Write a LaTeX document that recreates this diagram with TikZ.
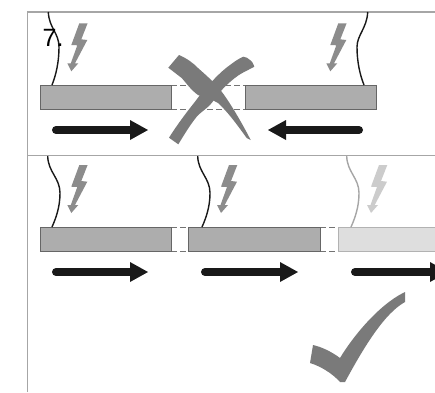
\documentclass[tikz,border=0pt]{standalone}
\usepackage{fontspec}
\setmainfont{Liberation Sans}
\tikzset{
  x=1pt,y=-1pt,
  framerule/.style={draw=black!35,line width=1.1pt},
  barbox/.style={draw=black!60,fill=black!32,line width=.9pt},
  barlight/.style={fill=black!13},
  gapdash/.style={draw=black!55,line width=.7pt,dash pattern=on 6pt off 3pt},
  wire/.style={draw=black!90,line width=1.4pt},
  wirelight/.style={draw=black!35,line width=1.4pt},
  bigarrow/.style={draw=black!90,line width=8pt,line cap=round},
  arrowfill/.style={fill=black!90},
  boltshape/.style={fill=black!45},
  boltlight/.style={fill=black!20},
  markshape/.style={fill=black!52},
}
\newcommand{\bolt}[3]{\fill[#1,shift={(#2,#3)}] (0,0)--(8.3,0)--(2,16)--(8,16.7)--(-4.3,40)--(-1,40)--(-8,48)--(-12,40)--(-8.5,40)--(-2,22)--(-8,21.7)--cycle;}
\newcommand{\rarrow}[3]{\draw[bigarrow] (#1+4,#3)--(#2-18,#3);\fill[arrowfill] (#2-18,#3-10)--(#2,#3)--(#2-18,#3+10)--cycle;}
\begin{document}
\begin{tikzpicture}
\useasboundingbox (0,0) rectangle (435,392);
\clip (0,0) rectangle (435,392);
\fill[white] (0,0) rectangle (435,392);
% frame
\draw[framerule] (27.5,392)--(27.5,12)--(435,12);
\draw[framerule] (27.5,155.5)--(435,155.5);
% top row
\draw[gapdash] (171,85)--(245,85);
\draw[gapdash] (171,109)--(245,109);
\draw[barbox] (40,85) rectangle (171,109);
\draw[barbox] (245,85) rectangle (376.5,109);
\draw[wire] (48.3,12) .. controls (49,28) and (59,33) .. (59,47) .. controls (59,62) and (56,75) .. (52,85);
\draw[wire] (367.7,12) .. controls (367,28) and (357,35) .. (357,47) .. controls (357,62) and (360,75) .. (364,85);
\bolt{boltshape}{79.3}{23.3}
\bolt{boltshape}{338.3}{23.3}
\rarrow{52}{148}{130}
\draw[bigarrow] (359,130)--(286,130);
\fill[arrowfill] (286,120)--(268,130)--(286,140)--cycle;
% cross
\fill[markshape] (168.3,67.7)--(179,55) .. controls (188,59) and (193,63) .. (198,68) .. controls (207,76) and (215,83) .. (221.7,91.7) .. controls (231,104) and (243,125) .. (250.7,140)--(246.7,138) .. controls (238,126) and (228,112) .. (218,103) .. controls (212,99) and (205,98) .. (198,95) .. controls (191,90) and (187,84) .. (181.7,78)--cycle;
\fill[markshape] (169,137.7)--(178.3,144.3) .. controls (184,135) and (190,125) .. (196.7,116.7) .. controls (201,112) and (206,109) .. (210,105) .. controls (216,98) and (220,91) .. (226.7,85) .. controls (232,80) and (237,76) .. (241.7,73.3) .. controls (246,71) and (250,69) .. (254.3,66.7) .. controls (253,63) and (252,61) .. (250,60) .. controls (248,58) and (246,57) .. (243.3,56.7) .. controls (238,59) and (234,62) .. (230,65) .. controls (223,70) and (217,76) .. (211.7,81.7) .. controls (205,88) and (200,95) .. (195,101.7) .. controls (186,113) and (177,125) .. (169,137.7)--cycle;
% lower row
\draw[gapdash] (171,227)--(188,227);
\draw[gapdash] (171,251)--(188,251);
\draw[gapdash] (320,227)--(338,227);
\draw[gapdash] (320,251)--(338,251);
\draw[barbox] (40,227) rectangle (171,251);
\draw[barbox] (188,227) rectangle (320,251);
\fill[barlight] (338,227) rectangle (436,251);
\draw[draw=black!30,line width=.7pt] (436,227)--(338,227)--(338,251)--(436,251);
\draw[wire] (47.7,156) .. controls (48,172) and (60,178) .. (60,193) .. controls (60,207) and (56,218) .. (52,227);
\draw[wire] (197.7,156) .. controls (198,172) and (210,178) .. (210,193) .. controls (210,207) and (206,218) .. (202,227);
\draw[wirelight] (346.7,156) .. controls (347,172) and (359,178) .. (359,193) .. controls (359,207) and (355,218) .. (351,227);
\bolt{boltshape}{79.3}{165}
\bolt{boltshape}{229}{165}
\bolt{boltlight}{379}{165}
\rarrow{52}{148}{272}
\rarrow{201}{298}{272}
\rarrow{351}{448}{272}
% check mark
\fill[markshape] (313,345) .. controls (322,347) and (332,352) .. (340,358) .. controls (352,338) and (378,305) .. (405,292)--(405,302) .. controls (385,313) and (365,345) .. (345,382)--(340,382) .. controls (332,373) and (320,366) .. (310,363)--cycle;
% label
\node[anchor=base west,inner sep=0pt,font=\fontsize{25}{25}\selectfont] (lab) at (42.5,46) {7.};
\end{tikzpicture}
\end{document}
